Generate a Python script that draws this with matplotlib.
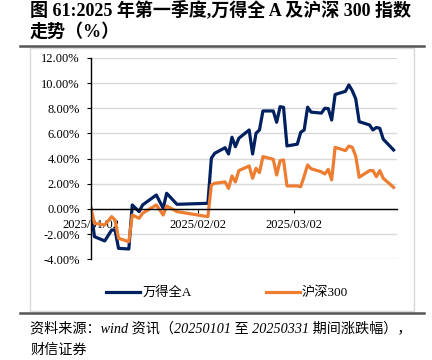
import matplotlib
matplotlib.use("Agg")
import matplotlib.pyplot as plt
import matplotlib.dates as mdates
from matplotlib.ticker import FuncFormatter, MultipleLocator
from matplotlib.patches import Rectangle
from matplotlib.lines import Line2D
import pandas as pd

# data (cumulative change, %)
dates = ["2025-01-02", "2025-01-03", "2025-01-06", "2025-01-08", "2025-01-09",
         "2025-01-10", "2025-01-13", "2025-01-14", "2025-01-16", "2025-01-17",
         "2025-01-21", "2025-01-23", "2025-01-24", "2025-01-27", "2025-02-05",
         "2025-02-06", "2025-02-07", "2025-02-10", "2025-02-11", "2025-02-12",
         "2025-02-13", "2025-02-14", "2025-02-17", "2025-02-18", "2025-02-19",
         "2025-02-20", "2025-02-21", "2025-02-24", "2025-02-25", "2025-02-26",
         "2025-02-27", "2025-02-28", "2025-03-03", "2025-03-04", "2025-03-05",
         "2025-03-06", "2025-03-07", "2025-03-10", "2025-03-11", "2025-03-12",
         "2025-03-13", "2025-03-14", "2025-03-17", "2025-03-18", "2025-03-19",
         "2025-03-20", "2025-03-21", "2025-03-24", "2025-03-25", "2025-03-26",
         "2025-03-27", "2025-03-28", "2025-03-31"]

wind_a = [0.00, -2.20, -2.54, -1.67, -1.67,
          -3.13, -3.18, 0.32, -0.21, 0.32,
          1.11, 0.05, 1.25, 0.37, 0.45,
          4.03, 4.43, 4.87, 4.37, 5.70,
          4.95, 5.62, 6.28, 4.37, 6.02,
          6.28, 7.79, 7.79, 6.89, 8.13,
          8.08, 5.01, 5.15, 6.10, 6.28,
          8.09, 7.70, 7.62, 8.00, 7.98,
          7.07, 9.10, 9.35, 9.86, 9.40,
          8.75, 6.94, 6.68, 6.28, 6.48,
          6.41, 5.55, 4.69]

hs300 = [0.05, -1.14, -1.27, -0.61, -0.87,
         -2.33, -2.60, -0.48, -0.74, -0.34,
         0.32, -0.48, 0.24, -0.21, -0.61,
         1.91, 2.04, 2.15, 1.64, 2.62,
         2.15, 3.05, 3.42, 2.44, 3.23,
         2.89, 4.16, 3.95, 2.70, 3.84,
         3.89, 1.83, 1.83, 1.77, 2.60,
         3.50, 3.20, 2.95, 2.78, 3.15,
         2.31, 4.90, 4.64, 5.00, 4.90,
         4.20, 2.52, 3.05, 3.05, 2.57,
         3.05, 2.44, 1.72]

x_ticks = ["2025-01-02", "2025-02-02", "2025-03-02"]
series_names = ["万得全A", "沪深300"]

blue = "#002060"
orange = "#ED7D31"
serif_cjk = ["Liberation Serif", "Noto Sans CJK SC"]

x = pd.to_datetime(dates)

fig = plt.figure(figsize=(4.32, 3.6), dpi=100)

W, H = 432, 360

def fx(px):
    return px / W

def fy(py):
    return 1 - py / H

# title
fig.text(fx(30), fy(10), "图 61:2025 年第一季度,万得全 A 及沪深 300 指数",
         fontsize=13, fontweight="bold", family=serif_cjk, va="center", ha="left")
fig.text(fx(30), fy(32), "走势（%）", fontsize=13, fontweight="bold",
         family=serif_cjk, va="center", ha="left")

# separator lines and chart frame
for yy in (46, 313):
    fig.add_artist(Line2D([fx(20), fx(424)], [fy(yy), fy(yy)], color="#555555",
                          lw=1.8, transform=fig.transFigure))
fig.add_artist(Rectangle((fx(30), fy(311)), fx(414) - fx(30), fy(48) - fy(311),
                         transform=fig.transFigure, fill=False,
                         edgecolor="#d9d9d9", lw=1))

ax = fig.add_axes([fx(91), fy(259.3), fx(397) - fx(91), fy(58) - fy(259.3)])

ax.plot(x, wind_a, color=blue, lw=2.3, label=series_names[0], solid_joinstyle="round")
ax.plot(x, hs300, color=orange, lw=2.3, label=series_names[1], solid_joinstyle="round")

ax.set_ylim(-4, 12)
ax.yaxis.set_major_locator(MultipleLocator(2))
ax.yaxis.set_major_formatter(FuncFormatter(lambda v, p: f"{v:.2f}%"))
ax.set_xlim(pd.Timestamp("2025-01-02"), pd.Timestamp("2025-04-01"))
ax.set_xticks(pd.to_datetime(x_ticks))
ax.xaxis.set_major_formatter(mdates.DateFormatter("%Y/%m/%d"))

ax.grid(axis="y", color="#d9d9d9", lw=1)
ax.set_axisbelow(True)
for s in ("top", "right"):
    ax.spines[s].set_visible(False)
ax.spines["bottom"].set_position(("data", 0))
ax.spines["bottom"].set_color("black")
ax.spines["bottom"].set_linewidth(1)
ax.spines["left"].set_linewidth(1)
ax.tick_params(axis="both", direction="out", length=3, width=0.8,
               labelsize=9, colors="black")
ax.tick_params(axis="y", pad=5)
ax.tick_params(axis="x", pad=4)
for lab in ax.get_xticklabels() + ax.get_yticklabels():
    lab.set_family("Liberation Serif")

fig.legend(handles=ax.get_lines(), labels=series_names, loc="center",
           bbox_to_anchor=(fx(227), fy(293)), ncol=2, frameon=False,
           handlelength=2.6, handletextpad=0.15, columnspacing=5.6,
           prop={"family": serif_cjk, "size": 9.5})

fig.text(fx(30), fy(328), "资料来源：wind 资讯（20250101 至 20250331 期间涨跌幅），",
         fontsize=10.2, family=serif_cjk, style="italic", va="center", ha="left")
fig.text(fx(30), fy(350), "财信证券", fontsize=10.2, family=serif_cjk,
         style="italic", va="center", ha="left")

fig.savefig("out.png", dpi=100)
